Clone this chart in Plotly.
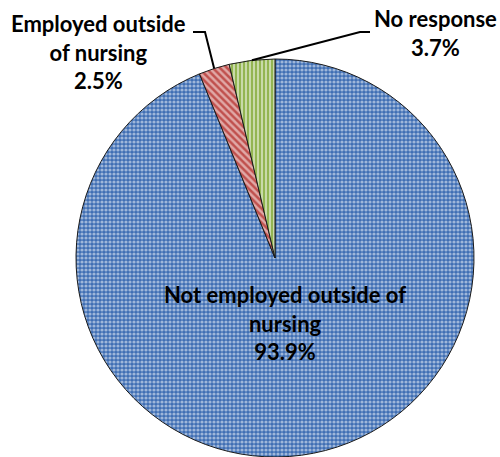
import math
import plotly.graph_objects as go

labels = ["Not employed outside of nursing", "Employed outside of nursing", "No response"]
values = [93.9, 2.5, 3.7]
label_text = ["Not employed outside of<br>nursing<br>93.9%", "Employed outside<br>of nursing<br>2.5%", "No response<br>3.7%"]

W, H = 500, 457

def px(x, y):  # pixel -> paper
    return x / W, 1 - y / H

dom_y = [0, 1 - 59 / H]
r = (dom_y[1] - dom_y[0]) * H / 2
cx, cy = 275, H - r

fig = go.Figure(go.Pie(
    labels=labels, values=values, sort=False, direction="clockwise", rotation=0,
    textinfo="none", hoverinfo="label+percent", showlegend=False,
    domain=dict(x=[75 / W, 475 / W], y=dom_y),
    marker=dict(
        colors=["#3F6EB4", "#C0504D", "#93B552"],
        line=dict(color="#1a1a1a", width=1),
        pattern=dict(shape=[".", "\\", "|"], fgcolor="white",
                     size=[4, 5, 4], solidity=[0.5, 0.5, 0.5], fillmode="overlay"),
    ),
))

font = dict(family="Lato", size=22, color="black")

# inside label for the big slice
x, y = px(285, 323)
fig.add_annotation(x=x, y=y, xref="paper", yref="paper", text="<b>" + label_text[0] + "</b>",
                   showarrow=False, font=font, align="center", xanchor="center", yanchor="middle")

# outside labels with leader lines to slice midpoints
total = sum(values)
cum = 0
mids = []
for v in values:
    mids.append((cum + v / 2) / total * 2 * math.pi)
    cum += v

outside = [(1, (98, 52), (193, 32), (205, 32)), (2, (435, 33), (370, 32), (360, 32))]
for i, (tx, ty), p0, p1 in outside:
    x, y = px(tx, ty)
    fig.add_annotation(x=x, y=y, xref="paper", yref="paper", text="<b>" + label_text[i] + "</b>",
                       showarrow=False, font=font, align="center", xanchor="center", yanchor="middle")
    ex = cx + r * math.sin(mids[i])
    ey = cy - r * math.cos(mids[i])
    pts = [px(*p0), px(*p1), px(ex, ey)]
    path = "M {} {} L {} {} L {} {}".format(*[c for p in pts for c in p])
    fig.add_shape(type="path", path=path, xref="paper", yref="paper",
                  line=dict(color="black", width=2))

fig.update_layout(width=W, height=H, margin=dict(l=0, r=0, t=0, b=0),
                  paper_bgcolor="white", plot_bgcolor="white")

fig.write_html("out.html", config={"displayModeBar": False},
               post_script="document.body.style.margin='0';")
